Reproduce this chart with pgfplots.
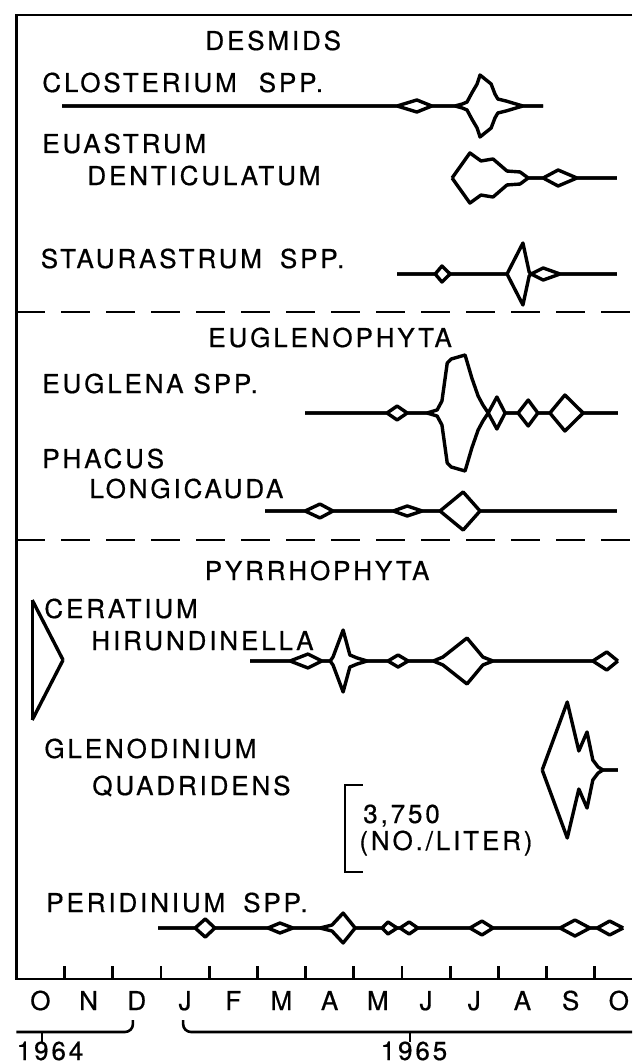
\documentclass[border=0pt]{standalone}
\usepackage{fontspec}
\setmainfont{TeX Gyre Heros}[LetterSpace=11, FakeBold=0.6]
\usepackage{pgfplots}
\usepackage{pgfplotstable}
\pgfplotsset{compat=1.18}

% x: months since 1 Oct 1964; n: abundance (no./liter)
\pgfplotstableread{
m n
0.95 0
7.90 0
8.31 520
8.62 0
9.10 0
9.25 170
9.35 340
9.45 1120
9.56 1900
9.62 2670
9.85 1900
9.93 1030
9.99 600
10.16 430
10.37 170
10.51 0
10.93 0
}\closterium
\pgfplotstableread{
m n
9.04 0
9.41 2160
9.64 1470
9.89 1640
10.18 600
10.45 520
10.62 0
10.93 0
11.24 690
11.63 0
12.46 0
}\euastrum
\pgfplotstableread{
m n
7.90 0
8.69 0
8.83 690
9.00 0
10.18 0
10.51 2670
10.64 170
10.68 0
10.93 520
11.28 0
12.46 0
}\staurastrum
\pgfplotstableread{
m n
5.99 0
7.69 0
7.90 600
8.11 0
8.52 0
8.73 260
8.83 1030
8.94 4310
9.02 4650
9.31 5000
9.45 3020
9.58 1470
9.68 690
9.79 0
9.97 1380
10.14 0
10.41 0
10.62 1120
10.82 0
11.07 0
11.38 1550
11.76 0
12.48 0
}\euglena
\pgfplotstableread{
m n
5.16 0
5.99 0
6.30 600
6.57 0
7.82 0
8.11 430
8.42 0
8.79 0
9.27 1640
9.62 0
12.46 0
}\phacus
\pgfplotstableread{
m n
0.33 5170
0.97 0
}\ceratiumA
\pgfplotstableread{
m n
4.85 0
5.68 0
6.05 600
6.34 0
6.51 0
6.57 340
6.78 2670
6.92 520
7.07 260
7.28 0
7.71 0
7.92 520
8.13 0
8.65 0
8.85 340
9.35 1980
9.68 340
9.89 0
11.96 0
12.25 780
12.48 0
}\ceratium
\pgfplotstableread{
m n
10.91 0
11.43 5860
11.67 1640
11.84 3280
11.96 860
12.07 260
12.17 0
12.48 0
}\glenodinium
\pgfplotstableread{
m n
2.94 0
3.71 0
3.92 780
4.12 0
5.22 0
5.47 430
5.74 0
6.30 0
6.55 260
6.78 1290
7.03 0
7.59 0
7.71 520
7.90 0
7.96 0
8.15 520
8.33 0
9.41 0
9.66 600
9.89 0
11.28 0
11.59 690
11.90 0
12.05 0
12.31 600
12.59 0
}\peridinium

\def\kscl{0.0116}
\pgfplotsset{kite/.style={black, line width=1.7pt, line join=round, mark=none}}
\newcommand{\kite}[2]{%
  \addplot[kite] table[x=m, y expr={#1-\kscl*\thisrow{n}}] {#2};
  \addplot[kite] table[x=m, y expr={#1+\kscl*\thisrow{n}}] {#2};
}
\tikzset{
  lab/.style={font=\fontsize{13}{15}\selectfont, inner sep=0pt, anchor=base west},
  mid/.style={font=\fontsize{13}{15}\selectfont, inner sep=0pt, anchor=base},
  dashln/.style={line width=1.4pt, dash pattern=on 14.5pt off 8pt},
}

\begin{document}
\begin{tikzpicture}
\begin{axis}[
  scale only axis, width=316pt, height=532pt,
  xmin=-0.338, xmax=12.773, ymin=0, ymax=1064,
  y dir=reverse, hide axis, clip=false,
]
  % frame and month ticks
  \draw[line width=1.4pt] (axis cs:12.773,15) -- (axis cs:0,15) -- (axis cs:0,979) -- (axis cs:12.773,979);
  \pgfplotsinvokeforeach{1,...,12}{\draw[line width=1.4pt] (axis cs:#1,979) -- (axis cs:#1,966);}
  \draw[dashln] (axis cs:0,312) -- (axis cs:12.773,312);
  \draw[dashln] (axis cs:0,540) -- (axis cs:12.773,540);

  % desmids
  \node[mid] at (axis cs:5.33,50) {DESMIDS};
  \node[lab] at (axis cs:0.533,92) {CLOSTERIUM\hspace{11pt}SPP.};
  \kite{106}{\closterium}
  \node[lab] at (axis cs:0.533,153) {EUASTRUM};
  \node[lab] at (axis cs:1.467,185) {DENTICULATUM};
  \kite{178}{\euastrum}
  \node[lab] at (axis cs:0.50,268) {STAURASTRUM\hspace{9pt}SPP.};
  \kite{274}{\staurastrum}

  % euglenophyta
  \node[mid] at (axis cs:6.51,347) {EUGLENOPHYTA};
  \node[lab] at (axis cs:0.533,393) {EUGLENA\hspace{5pt}SPP.};
  \kite{413}{\euglena}
  \node[lab] at (axis cs:0.533,468) {PHACUS};
  \node[lab] at (axis cs:1.509,498) {LONGICAUDA};
  \kite{511}{\phacus}

  % pyrrhophyta
  \node[mid] at (axis cs:6.24,580) {PYRRHOPHYTA};
  \node[lab] at (axis cs:0.575,618) {CERATIUM};
  \node[lab] at (axis cs:1.55,650) {HIRUNDINELLA};
  \kite{660}{\ceratiumA}
  \addplot[kite] coordinates {(0.33,600) (0.33,720)};
  \kite{661}{\ceratium}
  \node[lab] at (axis cs:0.575,758) {GLENODINIUM};
  \node[lab] at (axis cs:1.57,795) {QUADRIDENS};
  \kite{770}{\glenodinium}
  \node[lab] at (axis cs:0.616,912) {PERIDINIUM\hspace{9pt}SPP.};
  \kite{928}{\peridinium}

  % scale bar
  \draw[line width=1.3pt] (axis cs:7.19,785) -- (axis cs:6.82,785) -- (axis cs:6.82,872) -- (axis cs:7.19,872);
  \node[lab] at (axis cs:7.19,823) {3,750};
  \node[lab] at (axis cs:7.11,850) {(NO./LITER)};

  % month labels
  \node[mid] at (axis cs:0.5,1010) {O};
  \node[mid] at (axis cs:1.5,1010) {N};
  \node[mid] at (axis cs:2.5,1010) {D};
  \node[mid] at (axis cs:3.5,1010) {J};
  \node[mid] at (axis cs:4.5,1010) {F};
  \node[mid] at (axis cs:5.5,1010) {M};
  \node[mid] at (axis cs:6.5,1010) {A};
  \node[mid] at (axis cs:7.5,1010) {M};
  \node[mid] at (axis cs:8.5,1010) {J};
  \node[mid] at (axis cs:9.5,1010) {J};
  \node[mid] at (axis cs:10.5,1010) {A};
  \node[mid] at (axis cs:11.5,1010) {S};
  \node[mid] at (axis cs:12.5,1010) {O};

  % year braces
  \draw[line width=1.3pt, rounded corners=4pt] (axis cs:0,1032) -- (axis cs:2.42,1032) -- (axis cs:2.42,1020);
  \draw[line width=1.3pt] (axis cs:0.53,1032) -- (axis cs:0.53,1042);
  \draw[line width=1.3pt, rounded corners=4pt] (axis cs:3.46,1020) -- (axis cs:3.46,1032) -- (axis cs:12.773,1032);
  \draw[line width=1.3pt] (axis cs:8.17,1032) -- (axis cs:8.17,1042);
  \node[mid] at (axis cs:0.70,1060) {1964};
  \node[mid] at (axis cs:8.25,1060) {1965};
\end{axis}
\pgfresetboundingbox
\path (current axis.south west) rectangle (current axis.north east);
\end{tikzpicture}
\end{document}
